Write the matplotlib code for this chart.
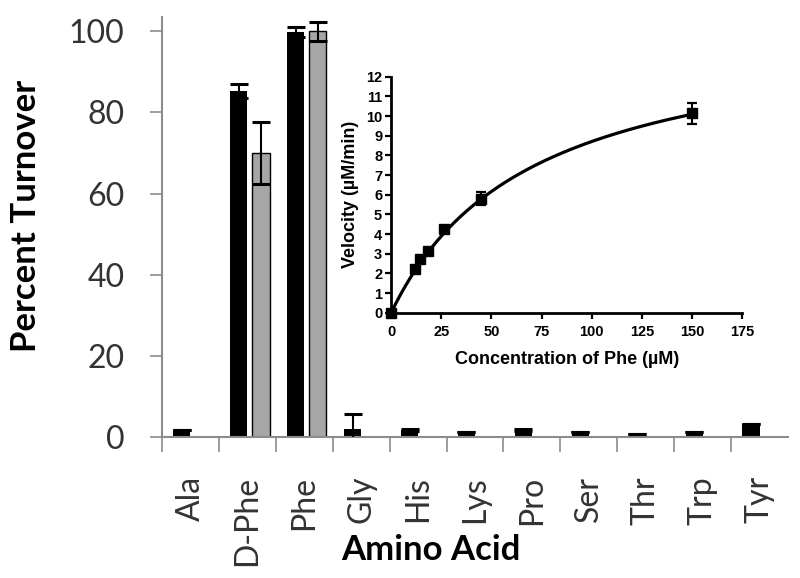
import numpy as np
import matplotlib
matplotlib.use("Agg")
from matplotlib import pyplot as plt

# main bar chart data
amino_acids = ["Ala", "D-Phe", "Phe", "Gly", "His", "Lys", "Pro", "Ser", "Thr", "Trp", "Tyr"]
turnover_black = [1.8, 85.2, 99.8, 2.0, 1.8, 1.2, 1.8, 1.3, 0.8, 1.3, 3.1]
error_black = [0.0, 1.7, 1.3, 3.6, 0.3, 0.0, 0.3, 0.0, 0.0, 0.0, 0.0]
gray_idx = [1, 2]
turnover_gray = [70.0, 100.0]
error_gray = [7.7, 2.3]

# inset kinetics data
conc_phe = [0, 12, 14.5, 18.5, 26.5, 45, 150]
velocity = [0.0, 2.2, 2.75, 3.15, 4.25, 5.8, 10.15]
velocity_err = [0.0, 0.0, 0.0, 0.0, 0.0, 0.33, 0.53]
vmax = 14.8
km = 70.0

GRAY = "#8c8c8c"


def plot_bars(ax):
    x = np.arange(len(amino_acids))
    ax.bar(x - 0.15, turnover_black, width=0.3, color="black", zorder=2)
    ax.errorbar(x - 0.15, turnover_black, yerr=error_black, fmt="none",
                ecolor="black", elinewidth=1.5, capsize=6.5, capthick=2.2, zorder=3)
    xg = np.array(gray_idx) + 0.24
    ax.bar(xg, turnover_gray, width=0.3, color="#a6a6a6", edgecolor="black",
           linewidth=1.0, zorder=2)
    ax.errorbar(xg, turnover_gray, yerr=error_gray, fmt="none",
                ecolor="black", elinewidth=1.5, capsize=6.5, capthick=2.2, zorder=3)

    ax.set_xlim(-0.5, 10.5)
    ax.set_ylim(0, 103.5)
    for s in ["top", "right"]:
        ax.spines[s].set_visible(False)
    for s in ["left", "bottom"]:
        ax.spines[s].set_color(GRAY)
        ax.spines[s].set_linewidth(1.5)

    ax.set_yticks([0, 20, 40, 60, 80, 100])
    ax.tick_params(axis="y", direction="out", length=9, width=1.2, color=GRAY,
                   pad=18, labelsize=23, labelcolor="#333333")
    ax.set_xticks(x)
    ax.set_xticklabels(amino_acids, rotation=90, va="top")
    ax.tick_params(axis="x", which="major", length=0, pad=28, labelsize=23,
                   labelcolor="#333333")
    ax.set_xticks(np.arange(-0.5, 10.0, 1.0), minor=True)
    ax.tick_params(axis="x", which="minor", direction="out", length=11,
                   width=1.2, color=GRAY)
    for lab in ax.get_yticklabels() + ax.get_xticklabels():
        lab.set_family("Lato")


def plot_inset(ax):
    ax.patch.set_alpha(0)
    s = np.linspace(0, 150, 200)
    ax.plot(s, vmax * s / (km + s), color="black", lw=2.3, zorder=2)
    ax.errorbar(conc_phe, velocity, yerr=velocity_err, fmt="s", color="black",
                ms=7.5, elinewidth=1.5, capsize=3.8, capthick=1.6,
                clip_on=False, zorder=3)
    ax.set_xlim(0, 175)
    ax.set_ylim(0, 12)
    ax.set_xticks(np.arange(0, 176, 25))
    ax.set_yticks(np.arange(0, 13, 1))
    for s_ in ["top", "right"]:
        ax.spines[s_].set_visible(False)
    for s_ in ["left", "bottom"]:
        ax.spines[s_].set_linewidth(2.0)
    ax.tick_params(direction="out", length=4.5, width=1.6, labelsize=10.5)
    ax.tick_params(axis="x", pad=4)
    ax.tick_params(axis="y", pad=2)
    for lab in ax.get_xticklabels() + ax.get_yticklabels():
        lab.set_family("Liberation Sans")
        lab.set_weight("bold")
    ax.set_xlabel("Concentration of Phe (\u00b5M)", family="Liberation Sans",
                  weight="bold", fontsize=13, labelpad=9)
    ax.set_ylabel("Velocity (\u00b5M/min)", family="Liberation Sans",
                  weight="bold", fontsize=13, labelpad=5)


def main():
    fig = plt.figure(figsize=(8, 5.78), dpi=100)
    ax = fig.add_axes([0.2025, 0.2439, 0.7825, 0.7267])
    plot_bars(ax)
    fig.text(26 / 800, 1 - 216 / 578, "Percent Turnover", rotation=90,
             ha="center", va="center", family="Lato", weight="bold", fontsize=25)
    fig.text(431 / 800, 1 - 550 / 578, "Amino Acid", ha="center", va="center",
             family="Lato", weight="bold", fontsize=25)
    inset = fig.add_axes([0.489, 0.459, 0.4388, 0.4083])
    plot_inset(inset)
    fig.savefig("out.png", dpi=100)


if __name__ == "__main__":
    main()
